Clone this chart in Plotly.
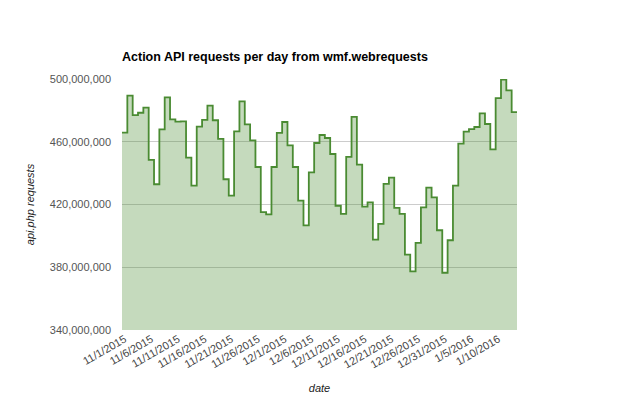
import pandas as pd
import plotly.graph_objects as go

start_date = "2015-11-01"
requests_millions = [
    465.8, 489.4, 477.0, 478.5, 481.7, 448.4, 432.9, 467.9, 488.3, 474.3,
    472.8, 473.0, 449.9, 432.0, 469.6, 473.9, 483.0, 473.7, 461.8, 436.1,
    425.6, 466.6, 485.8, 471.1, 460.9, 443.9, 415.2, 413.7, 443.9, 465.6,
    472.6, 457.7, 443.9, 422.5, 406.7, 440.5, 459.2, 464.3, 462.4, 452.2,
    419.2, 414.0, 450.3, 475.8, 445.4, 418.6, 421.4, 397.6, 407.6, 433.1,
    437.1, 417.8, 414.0, 388.0, 377.4, 395.5, 418.2, 430.7, 424.6, 403.6,
    376.5, 397.2, 432.0, 458.8, 466.4, 468.1, 469.4, 478.1, 471.3, 455.1,
    487.8, 499.6, 492.8, 478.9,
]
y_ticks = [340e6, 380e6, 420e6, 460e6, 500e6]

dates = pd.date_range(start_date, periods=len(requests_millions), freq="D")
half = pd.Timedelta(hours=12)
step_x = list(dates - half) + [dates[-1] + half]
values = [v * 1e6 for v in requests_millions]
step_y = values + [values[-1]]

fig = go.Figure()
fig.add_trace(go.Scatter(
    x=step_x, y=step_y, mode="lines", line=dict(shape="hv", color="#4a8b32", width=1.8),
    fill="tozeroy", fillcolor="rgba(74,139,50,0.32)", hoverinfo="skip", showlegend=False,
))

# page body has an 8px default margin; figure is sized/offset to compensate
W, H = 632, 401
font = "Liberation Sans, Arial, sans-serif"
fig.update_layout(
    width=W, height=H,
    margin=dict(l=114, r=123, t=71, b=79),
    paper_bgcolor="white", plot_bgcolor="white",
    font=dict(family=font, size=11, color="#444"),
    title=dict(text="<b>Action API requests per day from wmf.webrequests</b>",
               x=114 / W, xanchor="left", xref="container",
               y=1 - 48.5 / H, yanchor="middle", yref="container",
               font=dict(family=font, size=12.5, color="#000")),
    xaxis=dict(
        type="date", range=[dates[0] - half, dates[-1] + half],
        tick0=dates[0], dtick=5 * 86400000, tickformat="%-m/%-d/%Y",
        tickangle=-30, showgrid=False, zeroline=False, showline=False,
        ticks="", tickfont=dict(size=11, color="#444"),
        title=dict(text="<i>date</i>", font=dict(size=11, color="#222"), standoff=14),
    ),
    yaxis=dict(
        range=[340e6, 500e6], tickvals=y_ticks, tickformat=",d",
        showgrid=True, gridcolor="#cccccc", gridwidth=1, zeroline=False,
        showline=False, ticks="", ticklabelstandoff=10,
        tickfont=dict(size=11, color="#555"),
        title=dict(text="<i>api.php requests</i>", font=dict(size=11, color="#222"), standoff=12),
    ),
)

fig.write_html("out.html")
